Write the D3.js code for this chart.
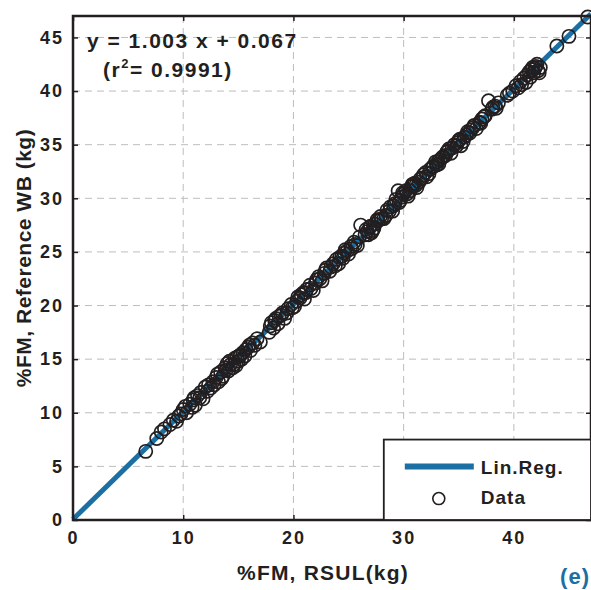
<!DOCTYPE html>
<html>
<head>
<meta charset="utf-8">
<script src="https://cdn.jsdelivr.net/npm/d3@7"></script>
<style>
  body { margin: 0; background: #fff; }
  svg text { font-family: "Liberation Sans", Arial, sans-serif; font-weight: bold; fill: #231f20; }
</style>
</head>
<body>
<div id="chart"></div>
<script>
// values
var rsul = [6.6, 7.6, 8.0, 8.3, 8.8, 9.1, 9.4, 9.8, 10.0, 10.3, 10.6, 10.9, 11.1, 11.3, 11.5, 11.8, 12.0, 12.2, 12.5,
  13.0, 13.2, 13.4, 13.6, 13.8, 14.0, 14.1, 14.3, 14.5, 14.7, 15.0, 15.2, 15.4, 15.6, 15.9, 16.1, 16.3, 16.7, 17.0,
  17.8, 18.0, 18.2, 18.4, 18.6, 18.9, 19.2, 19.5, 19.8, 20.1, 20.4, 20.7, 21.0, 21.2, 21.5, 21.8, 22.1, 22.3, 22.6,
  22.8, 23.0, 23.3, 23.6, 23.9, 24.1, 24.4, 24.7, 25.0, 25.2, 25.5, 25.8, 26.0, 26.1, 26.5, 26.7, 26.9, 27.1, 27.4,
  27.7, 27.9, 28.2, 28.5, 28.8, 29.0, 29.2, 29.5, 29.6, 29.8, 30.0, 30.2, 30.4, 30.7, 31.0, 31.2, 31.5, 31.8, 32.1,
  32.4, 32.7, 33.0, 33.3, 33.6, 33.9, 34.1, 34.3, 34.6, 34.9, 35.2, 35.5, 35.8, 36.1, 36.4, 36.6, 37.1, 37.4, 37.7,
  38.0, 38.3, 38.6, 39.4, 39.9, 40.2, 40.6, 40.9, 41.1, 41.4, 41.6, 41.8, 42.0, 42.2, 42.4, 43.9, 45.0, 46.7,
  11.0, 12.8, 14.9, 16.5, 19.0, 20.9, 24.6, 27.2, 30.9, 33.1, 35.0, 36.9, 41.9,
  9.6, 10.2, 10.8, 11.6, 12.3, 12.7, 13.1, 13.5, 13.9, 14.2, 14.6, 14.8, 15.1, 15.3, 15.7, 16.0, 17.9, 18.3, 18.7,
  19.4, 19.9, 20.3, 20.6, 21.1, 21.6, 22.0, 22.4, 22.9, 23.4, 23.8, 24.2, 24.5, 24.9, 25.3, 25.6, 26.6, 26.8, 27.0,
  27.3, 27.6, 28.0, 28.4, 28.7, 29.1, 29.3, 29.7, 29.9, 30.3, 30.6, 30.8, 31.1, 31.4, 31.7, 32.0, 32.3, 32.6, 32.9,
  33.2, 33.5, 33.8, 34.0, 34.4, 34.8, 35.1, 35.4, 35.7, 36.0, 36.3, 37.0, 37.3, 38.1, 38.4, 39.6, 40.4, 40.7, 41.2,
  41.5, 41.7, 42.1, 42.3];
var refWB = [6.4, 7.6, 8.2, 8.5, 8.9, 9.3, 9.2, 9.9, 10.3, 10.0, 10.8, 11.2, 10.7, 11.6, 11.4, 11.3, 12.4, 12.0, 12.3,
  13.3, 12.9, 13.8, 13.4, 14.2, 14.6, 13.9, 14.5, 14.2, 15.1, 14.8, 15.4, 15.6, 15.3, 16.1, 15.8, 16.5, 16.9, 16.6,
  17.5, 18.4, 17.9, 18.8, 18.3, 19.1, 18.8, 19.7, 20.1, 19.9, 20.8, 21.0, 20.6, 21.5, 21.9, 21.4, 22.4, 22.7, 22.3,
  23.0, 23.5, 23.2, 23.9, 24.3, 23.9, 24.6, 25.2, 24.8, 25.5, 25.9, 25.6, 26.4, 27.5, 26.6, 26.9, 27.3, 26.8, 27.6,
  27.9, 28.3, 28.1, 28.9, 29.2, 28.8, 29.5, 30.7, 29.6, 30.1, 30.4, 30.7, 30.2, 31.1, 31.4, 31.0, 31.8, 32.2, 32.0,
  32.7, 33.0, 33.1, 33.6, 33.9, 34.3, 34.6, 34.2, 35.0, 35.2, 34.9, 35.7, 36.2, 36.4, 36.8, 36.5, 37.4, 37.7, 39.1,
  38.3, 38.6, 38.9, 39.6, 40.0, 40.5, 40.9, 41.2, 40.8, 41.8, 42.0, 41.7, 42.3, 41.9, 42.2, 44.2, 45.1, 46.9,
  11.4, 12.6, 15.2, 16.3, 19.3, 21.2, 24.9, 27.0, 31.2, 33.4, 35.4, 37.1, 42.1,
  9.7, 10.6, 10.5, 11.9, 12.6, 12.9, 13.6, 13.2, 14.0, 14.8, 14.5, 14.4, 15.3, 15.0, 15.9, 16.3, 18.1, 18.6, 19.0,
  19.3, 19.8, 20.4, 20.7, 21.2, 21.6, 22.1, 22.5, 23.3, 23.6, 23.7, 24.5, 24.4, 25.1, 25.3, 25.7, 27.1, 26.6, 27.4,
  27.2, 28.0, 28.1, 28.4, 28.8, 29.3, 29.9, 29.8, 30.5, 30.4, 30.7, 31.3, 31.2, 31.5, 31.9, 32.4, 32.3, 32.9, 33.4,
  33.2, 33.8, 34.0, 34.4, 34.7, 34.9, 35.5, 35.3, 35.9, 36.1, 36.6, 37.0, 37.6, 38.5, 38.4, 39.8, 40.3, 40.6, 41.5,
  41.3, 42.2, 42.5, 41.7];

var slope = 1.003;
var intercept = 0.067;
var xTicks = [0, 10, 20, 30, 40];
var yTicks = [0, 5, 10, 15, 20, 25, 30, 35, 40, 45];
var legendItems = ["Lin.Reg.", "Data"];

var blue = "#1b6fa3";
var ink = "#231f20";
var svgWidth = 591;
var svgHeight = 590;

var margin = { top: 16, right: 0, bottom: 70, left: 73 };
var width = svgWidth - margin.left - margin.right;
var height = svgHeight - margin.top - margin.bottom;

var svg = d3.select("#chart")
  .append("svg")
  .attr("width", svgWidth)
  .attr("height", svgHeight);

var chartGroup = svg.append("g")
  .attr("transform", `translate(${margin.left},${margin.top})`);

var xScale = d3.scaleLinear().domain([0, 47]).range([0, width]);
var yScale = d3.scaleLinear().domain([0, 47]).range([height, 0]);

// dashed grid
chartGroup.append("g")
  .selectAll("line")
  .data(xTicks.slice(1))
  .enter()
  .append("line")
  .attr("x1", d => xScale(d)).attr("x2", d => xScale(d))
  .attr("y1", 0).attr("y2", height)
  .attr("stroke", "#bdbdbd").attr("stroke-width", 1).attr("stroke-dasharray", "7,5");

chartGroup.append("g")
  .selectAll("line")
  .data(yTicks.slice(1))
  .enter()
  .append("line")
  .attr("x1", 0).attr("x2", width)
  .attr("y1", d => yScale(d)).attr("y2", d => yScale(d))
  .attr("stroke", "#bdbdbd").attr("stroke-width", 1).attr("stroke-dasharray", "7,5");

// regression line
chartGroup.append("line")
  .attr("x1", xScale(0)).attr("y1", yScale(intercept))
  .attr("x2", xScale(47)).attr("y2", yScale(slope * 47 + intercept))
  .attr("stroke", blue).attr("stroke-width", 5);

// data circles
var points = rsul.map((d, i) => ({ x: d, y: refWB[i] }));
chartGroup.selectAll("circle.pt")
  .data(points)
  .enter()
  .append("circle")
  .attr("cx", d => xScale(d.x))
  .attr("cy", d => yScale(d.y))
  .attr("r", 6.6)
  .attr("fill", "none")
  .attr("stroke", ink)
  .attr("stroke-width", 1.7);

// axes
var bottomAxis = d3.axisBottom(xScale).tickValues(xTicks).tickSize(-5).tickPadding(11).tickFormat(d3.format("d"));
var leftAxis = d3.axisLeft(yScale).tickValues(yTicks).tickSize(-5).tickPadding(9).tickFormat(d3.format("d"));
var topAxis = d3.axisTop(xScale).tickValues(xTicks).tickSize(-5).tickFormat("");
var rightAxis = d3.axisRight(yScale).tickValues(yTicks).tickSize(-5).tickFormat("");

function styleAxis(g) {
  g.select(".domain").remove();
  g.selectAll(".tick line").attr("stroke", ink).attr("stroke-width", 1.5);
  g.selectAll(".tick text").attr("font-size", 18).attr("letter-spacing", 2).attr("fill", ink);
}

chartGroup.append("g").attr("transform", `translate(0,${height})`).call(bottomAxis).call(styleAxis);
chartGroup.append("g").call(leftAxis).call(styleAxis);
chartGroup.append("g").call(topAxis).call(styleAxis);
chartGroup.append("g").attr("transform", `translate(${width},0)`).call(rightAxis).call(styleAxis);

// frame
chartGroup.append("rect")
  .attr("x", 0).attr("y", 0).attr("width", width).attr("height", height)
  .attr("fill", "none").attr("stroke", ink).attr("stroke-width", 2.5);

// equation
chartGroup.append("text")
  .attr("x", 14).attr("y", 32)
  .attr("font-size", 21)
  .attr("letter-spacing", 1.5)
  .text(`y = ${slope.toFixed(3)} x + ${intercept.toFixed(3)}`);

var r2 = chartGroup.append("text")
  .attr("x", 30).attr("y", 61)
  .attr("font-size", 21)
  .attr("letter-spacing", 1.5);
r2.append("tspan").text("(r");
r2.append("tspan").attr("font-size", 13).attr("dy", -9).text("2");
r2.append("tspan").attr("dy", 9).text("= 0.9991)");

// legend
var legend = chartGroup.append("g")
  .attr("transform", `translate(${xScale(28.2)},${yScale(7.5)})`);
legend.append("rect")
  .attr("width", width - xScale(28.2)).attr("height", height - yScale(7.5))
  .attr("fill", "#fff").attr("stroke", ink).attr("stroke-width", 1.8);
legend.append("line")
  .attr("x1", 21).attr("x2", 90).attr("y1", 27).attr("y2", 27)
  .attr("stroke", blue).attr("stroke-width", 6);
legend.append("circle")
  .attr("cx", 55).attr("cy", 59).attr("r", 6)
  .attr("fill", "none").attr("stroke", ink).attr("stroke-width", 1.6);
legend.selectAll("text.lg")
  .data(legendItems)
  .enter()
  .append("text")
  .attr("x", 97)
  .attr("y", (d, i) => 34 + i * 30)
  .attr("font-size", 19)
  .attr("letter-spacing", 1)
  .text(d => d);

// axis titles
svg.append("text")
  .attr("x", margin.left + width / 2 - 9).attr("y", 580)
  .attr("text-anchor", "middle")
  .attr("font-size", 21)
  .attr("letter-spacing", 1.2)
  .text("%FM,  RSUL(kg)");

svg.append("text")
  .attr("transform", `translate(31,258) rotate(-90)`)
  .attr("text-anchor", "middle")
  .attr("font-size", 21)
  .attr("letter-spacing", 0.5)
  .text("%FM, Reference WB (kg)");

svg.append("text")
  .attr("x", 590).attr("y", 584)
  .attr("text-anchor", "end")
  .attr("font-size", 22)
  .attr("letter-spacing", 1)
  .style("fill", blue)
  .text("(e)");
</script>
</body>
</html>
